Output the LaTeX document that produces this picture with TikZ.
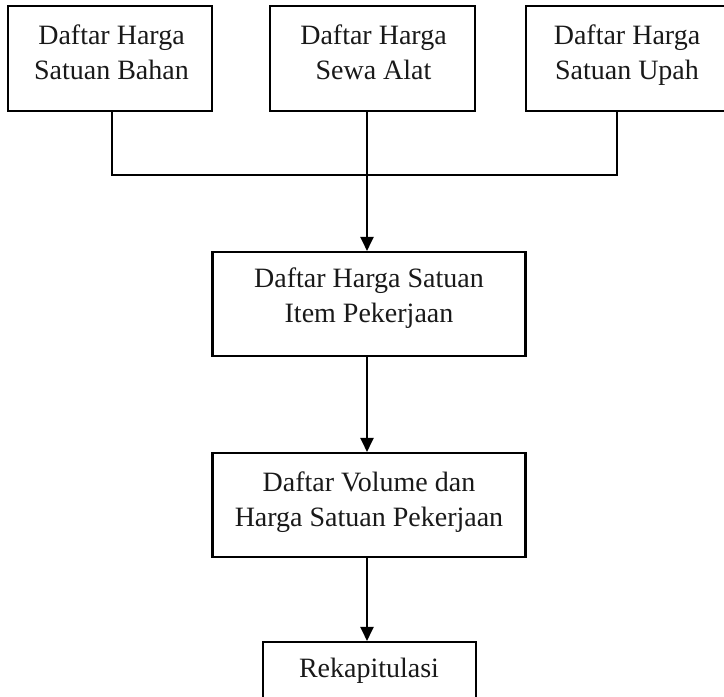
\documentclass[tikz,border=0pt]{standalone}
\usepackage{fontspec}
\setmainfont{Liberation Serif}
\usetikzlibrary{arrows.meta,calc}
\begin{document}
\begin{tikzpicture}[x=1pt,y=-1pt,
  box/.style={draw, line width=2.1pt, inner sep=0pt},
  txt/.style={font=\fontsize{28}{35}\selectfont, align=center, inner sep=0pt, anchor=north, text=black!90},
  conn/.style={line width=2.2pt},
  arr/.style={conn,-{Triangle[length=14pt,width=13pt]}}]
\useasboundingbox (0,0) rectangle (724,697);
\clip (0,0) rectangle (724,697);
% boxes
\node[box, minimum width=204pt, minimum height=105pt] (b1) at (110,58.5) {};
\node[box, minimum width=205pt, minimum height=105pt] (b2) at (372.5,58.5) {};
\node[box, minimum width=202pt, minimum height=105pt] (b3) at (627,58.5) {};
\node[box, minimum width=313pt, minimum height=104pt] (b4) at (369,304) {};
\node[box, minimum width=313pt, minimum height=104pt] (b5) at (369,505) {};
\node[box, minimum width=213pt, minimum height=70pt] (b6) at (369.5,677) {};
% texts
\node[txt] (t1) at (111.5,24.5) {Daftar Harga\\Satuan Bahan};
\node[txt] (t2) at (373.5,24.5) {Daftar Harga\\Sewa Alat};
\node[txt] (t3) at (627,24.5) {Daftar Harga\\Satuan Upah};
\node[txt] (t4) at (369,267.5) {Daftar Harga Satuan\\Item Pekerjaan};
\node[txt] (t5) at (369,471.5) {Daftar Volume dan\\Harga Satuan Pekerjaan};
\node[txt] (t6) at (369,657.5) {Rekapitulasi};
% connectors
\coordinate (jl) at (112,175);
\coordinate (jr) at (617,175);
\draw[conn] (b1.south -| jl) -- (jl) -- (jr) -- (b3.south -| jr);
\draw[arr] (b2.south -| 367,0) -- (b4.north -| 367,0);
\draw[arr] (b4.south -| 367,0) -- (b5.north -| 367,0);
\draw[arr] (b5.south -| 367,0) -- (b6.north -| 367,0);
\end{tikzpicture}
\end{document}
